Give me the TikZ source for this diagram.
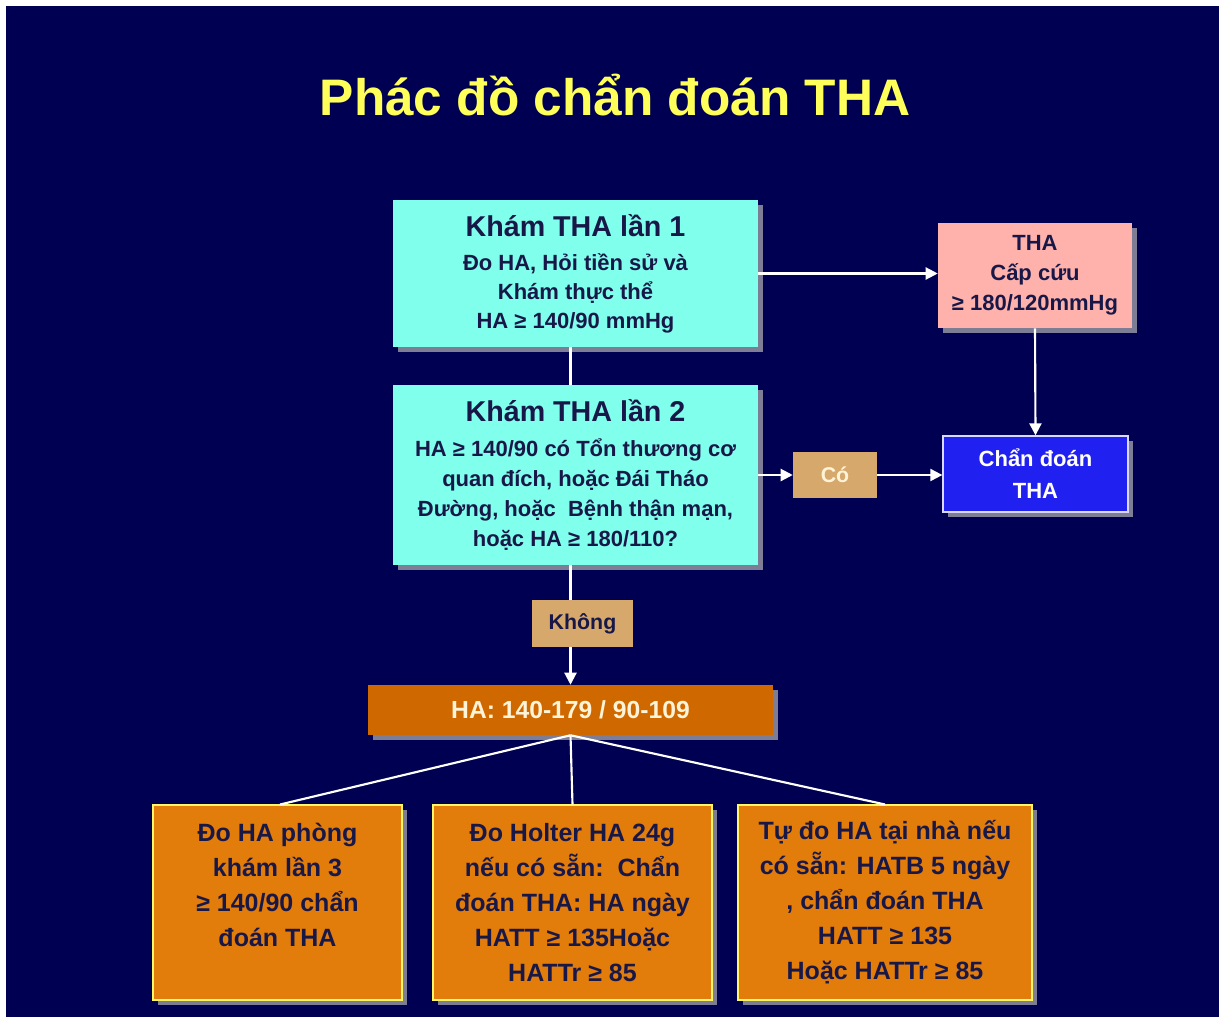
\documentclass[tikz,border=0pt]{standalone}
\usepackage{fontspec}
\setmainfont{Liberation Sans}
\usetikzlibrary{arrows.meta,shadows}
\definecolor{bgc}{RGB}{0,0,82}
\definecolor{cyanbox}{RGB}{128,255,236}
\definecolor{pinkbox}{RGB}{255,178,172}
\definecolor{bluebox}{RGB}{32,32,240}
\definecolor{tanbox}{RGB}{214,168,108}
\definecolor{habox}{RGB}{208,104,0}
\definecolor{orbox}{RGB}{226,124,10}
\definecolor{darktxt}{RGB}{24,24,72}
\definecolor{creamtxt}{RGB}{255,244,215}
\definecolor{titlec}{RGB}{255,255,90}
\definecolor{shadowc}{RGB}{125,125,150}
\tikzset{
  box/.style={rectangle, inner sep=0pt, align=center, font=\bfseries,
    drop shadow={shadow xshift=3.5pt, shadow yshift=-3.5pt, fill=shadowc, opacity=1}},
  conn/.style={draw=white, line width=1.6pt},
  arr/.style={conn, -{Triangle[length=9pt,width=9pt]}},
}
\begin{document}
\begin{tikzpicture}[x=0.75pt,y=-0.75pt]
\useasboundingbox (0,0) rectangle (1219,1017);
\fill[white] (0,0) rectangle (1219,1017);
\fill[bgc] (6,6) rectangle (1219,1017);

\node[text=titlec, font=\bfseries\fontsize{38.5}{44}\selectfont] (title) at (615,95) {Phác đồ chẩn đoán THA};

\node[box, fill=cyanbox, text=darktxt, minimum width=273.75pt, minimum height=110.25pt,
  font=\bfseries\fontsize{16.5}{21.75}\selectfont] (b1) at (575.5,273.5)
  {{\fontsize{21.5}{24}\selectfont Khám THA lần 1}\\[4pt]
   Đo HA, Hỏi tiền sử và\\ Khám thực thể\\ HA ≥ 140/90 mmHg};

\node[box, fill=cyanbox, text=darktxt, minimum width=273.75pt, minimum height=135pt,
  font=\bfseries\fontsize{16.5}{22.5}\selectfont] (b2) at (575.5,475)
  {{\fontsize{21.5}{24}\selectfont Khám THA lần 2}\\[3.5pt]
   HA ≥ 140/90 có Tổn thương cơ\\ quan đích, hoặc Đái Tháo\\ Đường, hoặc\ \ Bệnh thận mạn,\\ hoặc HA ≥ 180/110?};

\node[box, fill=pinkbox, text=darktxt, minimum width=145.5pt, minimum height=78.75pt,
  font=\bfseries\fontsize{16.5}{22.5}\selectfont] (cc) at (1035,275.5)
  {THA\\ Cấp cứu\\ ≥ 180/120mmHg};

\node[box, fill=bluebox, draw=white!85!blue, line width=1pt, text=white, minimum width=138.75pt, minimum height=57pt,
  font=\bfseries\fontsize{16.5}{24}\selectfont] (cd) at (1035.5,474)
  {Chẩn đoán\\ THA};

\node[rectangle, inner sep=0pt, fill=tanbox, text=creamtxt, minimum width=63pt, minimum height=34.5pt,
  font=\bfseries\fontsize{16}{20}\selectfont] (co) at (835,475) {Có};

\node[rectangle, inner sep=0pt, fill=tanbox, text=darktxt, minimum width=75.75pt, minimum height=35.25pt,
  font=\bfseries\fontsize{16}{20}\selectfont] (kh) at (582.5,623.5) {Không};

\node[box, fill=habox, text=creamtxt, minimum width=303.75pt, minimum height=37.5pt,
  font=\bfseries\fontsize{18.5}{22}\selectfont] (ha) at (570.5,710) {HA: 140-179 / 90-109};

\tikzset{bot/.style={box, fill=orbox, draw=yellow!60!white, line width=0.8pt, text=darktxt,
  minimum height=146.25pt, font=\bfseries\fontsize{18.75}{26.25}\selectfont}}
\node[bot, minimum width=186.75pt] (bA) at (277.5,902.5)
  {Đo HA phòng\\ khám lần 3\\ ≥ 140/90 chẩn\\ đoán THA\\ \mbox{}};
\node[bot, minimum width=209.25pt] (bB) at (572.5,902.5)
  {Đo Holter HA 24g\\ nếu có sẵn:\ \ Chẩn\\ đoán THA: HA ngày\\ HATT ≥ 135Hoặc\\ HATTr ≥ 85};
\node[bot, minimum width=220.5pt] (bC) at (885,902.5)
  {Tự đo HA tại nhà nếu\\ có sẵn: HATB 5 ngày\\ , chẩn đoán THA\\ HATT ≥ 135\\ Hoặc HATTr ≥ 85};

% connectors
\draw[conn] (b1.south -| ha.north) -- (b2.north -| ha.north);
\draw[arr] (b1.east) -- (b1.east -| cc.west);
\draw[arr] (cc.south) -- (cd.north);
\draw[arr] (b2.east) -- (co.west);
\draw[arr] (co.east) -- (co.east -| cd.west);
\draw[conn] (b2.south -| ha.north) -- (kh.north -| ha.north);
\draw[arr] (kh.south -| ha.north) -- (ha.north);
\draw[conn] (ha.south) -- ([xshift=2pt]bA.north);
\draw[conn] (ha.south) -- (bB.north);
\draw[conn] (ha.south) -- (bC.north);
\end{tikzpicture}
\end{document}
